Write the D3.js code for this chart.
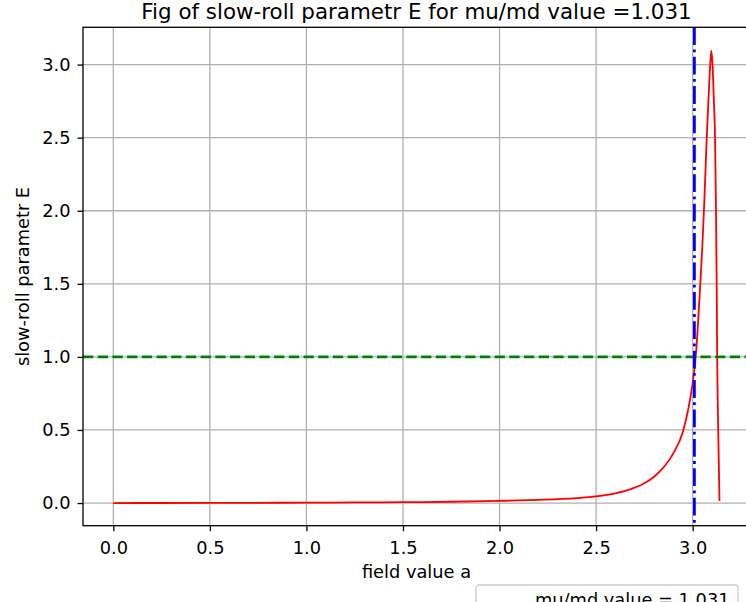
<!DOCTYPE html>
<html lang="en">
<head>
    <meta charset="UTF-8">
    <title>Slow-roll parametr E</title>
    <script src="https://d3js.org/d3.v7.min.js"></script>
    <style>
        body { margin: 0; background: #fff; }
        text { font-family: "DejaVu Sans", sans-serif; fill: #000; }
        .grid line { stroke: #b0b0b0; stroke-width: 1.3; }
        .axis path, .axis line { stroke: #000; stroke-width: 1.3; }
        .axis text { font-size: 17.8px; }
    </style>
</head>
<body>
    <div id="chart"></div>
    <script>
        // Figure setup
        const width = 746;
        const height = 602;
        const plot = { left: 83, right: 750, top: 27.3, bottom: 525.7 };

        // Data
        const fieldA = [0, 0.25, 0.5, 0.75, 1.0, 1.25, 1.5, 1.75, 2.0, 2.2, 2.4, 2.5, 2.6, 2.7, 2.75, 2.8, 2.85, 2.9, 2.95, 2.98, 3.0, 3.016, 3.035, 3.05, 3.06, 3.073, 3.085, 3.092, 3.097, 3.103, 3.11, 3.116, 3.121, 3.125, 3.127, 3.131, 3.135, 3.139];
        const epsilon = [0, 0.0003, 0.0007, 0.0014, 0.0025, 0.004, 0.006, 0.009, 0.015, 0.022, 0.034, 0.045, 0.066, 0.105, 0.135, 0.18, 0.245, 0.34, 0.49, 0.66, 0.82, 1.0, 1.39, 1.75, 2.05, 2.5, 2.85, 3.02, 3.096, 3.0, 2.75, 2.5, 2.0, 1.4, 1.0, 0.6, 0.3, 0.014];
        const xTicks = [0.0, 0.5, 1.0, 1.5, 2.0, 2.5, 3.0];
        const yTicks = [0.0, 0.5, 1.0, 1.5, 2.0, 2.5, 3.0];
        const thresholdE = 1.0;
        const endFieldA = 3.009;
        const titleText = "Fig of slow-roll parametr E for mu/md value =1.031";
        const legendText = "mu/md value = 1.031";

        const points = fieldA.map((a, i) => ({ a: a, e: epsilon[i] }));

        const svg = d3.select("#chart")
            .append("svg")
            .attr("width", width)
            .attr("height", height);

        // Scales (matplotlib style 5% margins)
        const x = d3.scaleLinear().domain([-0.157, 3.297]).range([plot.left, plot.right]);
        const y = d3.scaleLinear().domain([-0.155, 3.255]).range([plot.bottom, plot.top]);

        // Grid
        const grid = svg.append("g").attr("class", "grid");
        grid.selectAll(".gx").data(xTicks).enter().append("line")
            .attr("x1", d => x(d)).attr("x2", d => x(d))
            .attr("y1", plot.top).attr("y2", plot.bottom);
        grid.selectAll(".gy").data(yTicks).enter().append("line")
            .attr("x1", plot.left).attr("x2", plot.right)
            .attr("y1", d => y(d)).attr("y2", d => y(d));

        // Curve of E
        svg.append("path")
            .datum(points)
            .attr("fill", "none")
            .attr("stroke", "#ff0000")
            .attr("stroke-width", 1.8)
            .attr("d", d3.line().x(d => x(d.a)).y(d => y(d.e)).curve(d3.curveMonotoneX));

        // Horizontal E = 1
        svg.append("line")
            .attr("x1", plot.left).attr("x2", plot.right)
            .attr("y1", y(thresholdE)).attr("y2", y(thresholdE))
            .attr("stroke", "#008000")
            .attr("stroke-width", 2.8)
            .attr("stroke-dasharray", "10.3,4.4");

        // Vertical end of inflation
        svg.append("line")
            .attr("x1", x(endFieldA)).attr("x2", x(endFieldA))
            .attr("y1", plot.top).attr("y2", plot.bottom)
            .attr("stroke", "#0000ff")
            .attr("stroke-width", 2.8)
            .attr("stroke-dasharray", "17.8,4.4,2.8,4.4");

        // Axes
        svg.append("g")
            .attr("class", "axis")
            .attr("transform", `translate(0,${plot.bottom})`)
            .call(d3.axisBottom(x).tickValues(xTicks).tickFormat(d3.format(".1f")).tickSize(5.5).tickPadding(10.5).tickSizeOuter(0));
        svg.append("g")
            .attr("class", "axis")
            .attr("transform", `translate(${plot.left},0)`)
            .call(d3.axisLeft(y).tickValues(yTicks).tickFormat(d3.format(".1f")).tickSize(5.5).tickPadding(7).tickSizeOuter(0));
        svg.selectAll(".axis .domain").remove();

        // Frame
        svg.append("rect")
            .attr("x", plot.left).attr("y", plot.top)
            .attr("width", plot.right - plot.left).attr("height", plot.bottom - plot.top)
            .attr("fill", "none").attr("stroke", "#000").attr("stroke-width", 1.3);

        // Titles
        svg.append("text")
            .attr("x", (plot.left + plot.right) / 2).attr("y", 19)
            .attr("text-anchor", "middle")
            .style("font-size", "21.4px")
            .text(titleText);
        svg.append("text")
            .attr("x", (plot.left + plot.right) / 2).attr("y", 578)
            .attr("text-anchor", "middle")
            .style("font-size", "17.8px")
            .text("field value a");
        svg.append("text")
            .attr("transform", `translate(29,${(plot.top + plot.bottom) / 2}) rotate(-90)`)
            .attr("text-anchor", "middle")
            .style("font-size", "17.8px")
            .text("slow-roll parametr E");

        // Legend (cut by the figure edge)
        const legend = svg.append("g").attr("transform", "translate(476,585)");
        legend.append("rect")
            .attr("width", 262).attr("height", 34)
            .attr("rx", 3)
            .attr("fill", "#fff").attr("fill-opacity", 0.8)
            .attr("stroke", "#cccccc").attr("stroke-width", 1.3);
        legend.append("line")
            .attr("x1", 8).attr("x2", 44).attr("y1", 24).attr("y2", 24)
            .attr("stroke", "#0000ff").attr("stroke-width", 2.8)
            .attr("stroke-dasharray", "17.8,4.4,2.8,4.4");
        legend.append("text")
            .attr("x", 59).attr("y", 21)
            .style("font-size", "17.8px")
            .text(legendText);
    </script>
</body>
</html>
